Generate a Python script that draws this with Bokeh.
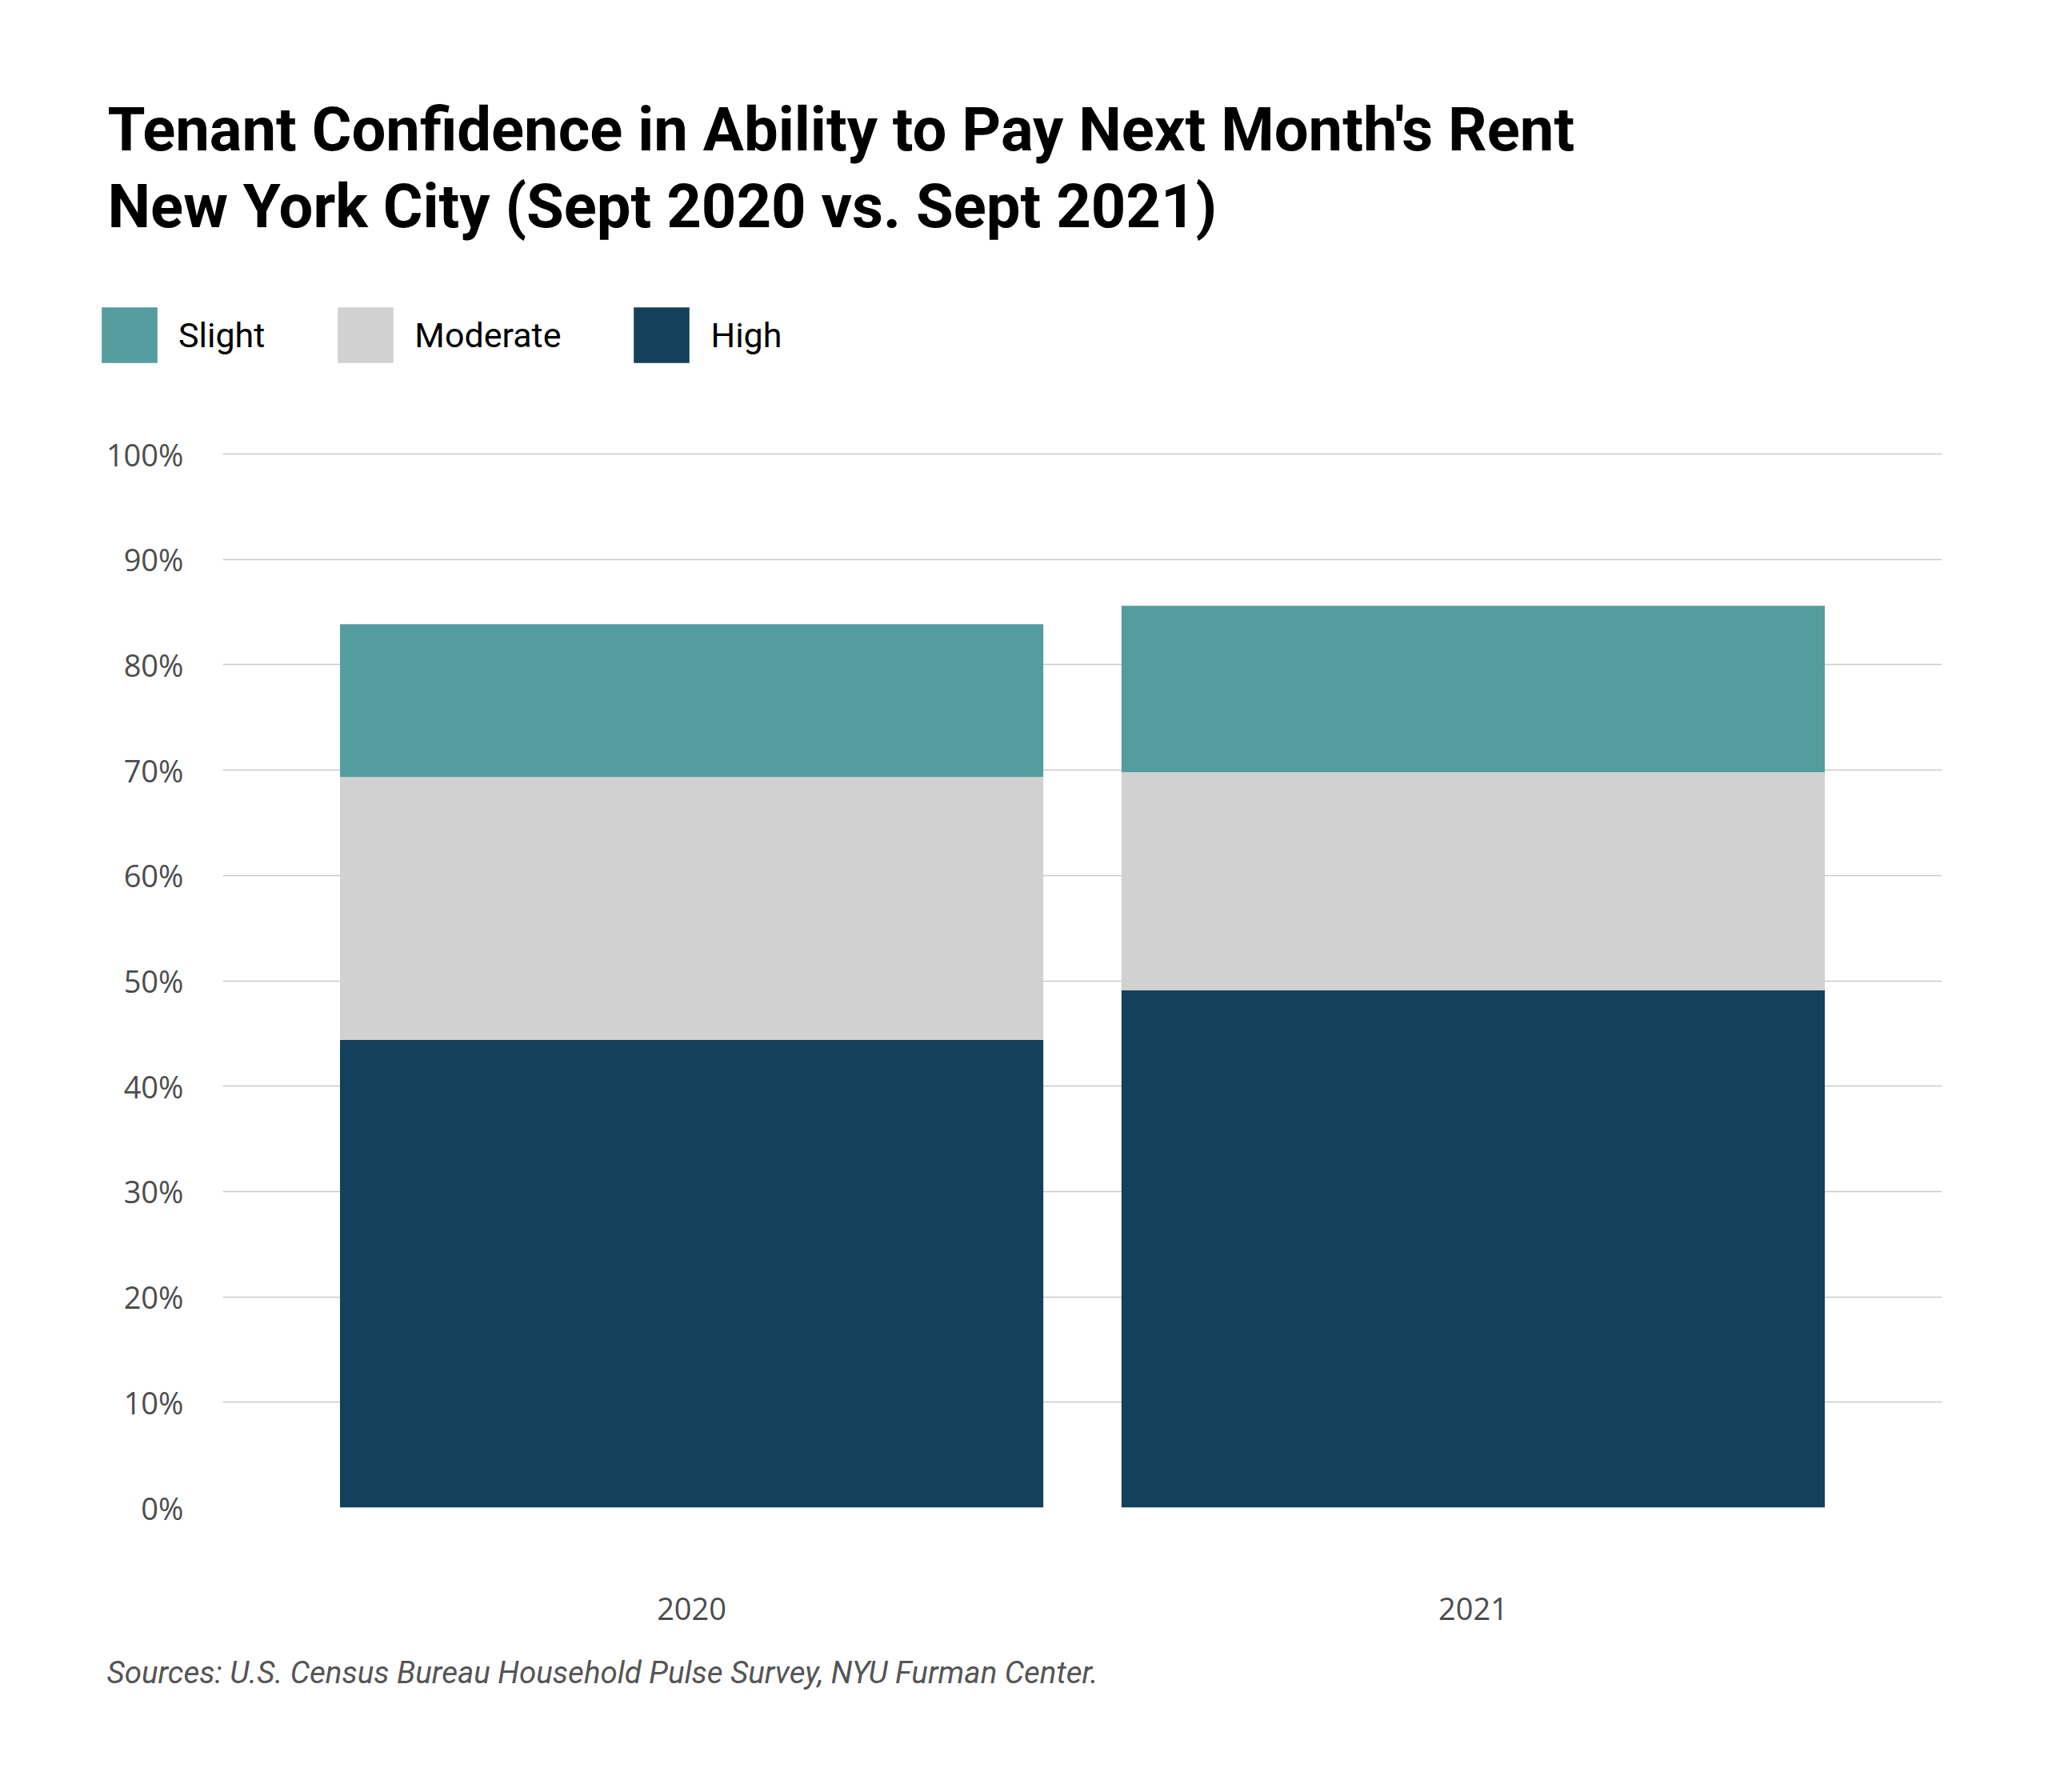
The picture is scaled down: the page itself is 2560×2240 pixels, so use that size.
from bokeh.plotting import figure
from bokeh.layouts import column
from bokeh.models import ColumnDataSource, Range1d, FactorRange, Label, Legend, LegendItem
from bokeh.embed import file_html
from bokeh.resources import INLINE

years = ["2020", "2021"]
high = [44.4, 49.1]
moderate = [24.95, 20.7]
slight = [14.5, 15.8]
y_ticks = [0, 10, 20, 30, 40, 50, 60, 70, 80, 90, 100]
y_tick_labels = [f"{t}%" for t in y_ticks]

series = ["High", "Moderate", "Slight"]
colors = ["#13405b", "#d1d1d1", "#559c9e"]
legend_order = ["Slight", "Moderate", "High"]

title_lines = ["Tenant Confidence in Ability to Pay Next Month's Rent",
               "New York City (Sept 2020 vs. Sept 2021)"]
source_note = "Sources: U.S. Census Bureau Household Pulse Survey, NYU Furman Center."

W = 2560
HEAD_H = 500
FL, FR, FT, FB = 278, 133, 64, 170
FW, FH = 2149, 1320
FOOT_H = 120

source = ColumnDataSource(data=dict(year=years, High=high, Moderate=moderate, Slight=slight))
x_range = FactorRange(*years, range_padding=0.1, range_padding_units="absolute")

# ---------- header: title + legend ----------
head = figure(width=W, height=HEAD_H, frame_width=W, frame_height=HEAD_H,
              x_range=x_range, y_range=Range1d(0, 100),
              min_border=0, output_backend="svg", toolbar_location=None, tools="",
              x_axis_type=None, y_axis_type=None, frame_align=False)
head.outline_line_color = None
head.grid.visible = False

for txt, yy in zip(title_lines, [HEAD_H - 161, HEAD_H - 257]):
    head.add_layout(Label(x=134, y=yy, x_units="screen", y_units="screen", text=txt,
                          text_font="Roboto", text_font_style="bold", text_font_size="76px",
                          text_color="#000000", text_baseline="alphabetic"))

# hidden copies of the stack, used only for the legend swatches
key = head.vbar_stack(series, x="year", width=0.9, color=colors, line_color=None,
                      source=source, visible=False)
key_by_name = dict(zip(series, key))
legend = Legend(
    items=[LegendItem(label=s, renderers=[key_by_name[s]]) for s in legend_order],
    orientation="horizontal", location=(118, 38),
    glyph_width=87, glyph_height=87, label_standoff=18, spacing=82,
    padding=0, margin=0, border_line_color=None, background_fill_alpha=0,
    inactive_fill_alpha=0,
    label_text_font="Roboto", label_text_font_size="43px", label_text_color="#000000",
    label_height=87,
)
head.add_layout(legend, "center")

# ---------- main chart ----------
p = figure(
    x_range=x_range,
    y_range=Range1d(0, 100.23),
    width=FL + FW + FR, height=FT + FH + FB,
    frame_width=FW, frame_height=FH,
    min_border_left=FL, min_border_right=FR, min_border_top=FT, min_border_bottom=FB,
    output_backend="svg", toolbar_location=None, tools="", frame_align=False,
)
p.outline_line_color = None

p.vbar_stack(series, x="year", width=0.9, color=colors, line_color=None, source=source)

p.yaxis.ticker = y_ticks
p.yaxis.major_label_overrides = dict(zip(y_ticks, y_tick_labels))
for ax in (p.xaxis[0], p.yaxis[0]):
    ax.axis_line_color = None
    ax.major_tick_line_color = None
    ax.minor_tick_line_color = None
    ax.major_label_text_font = "Open Sans"
    ax.major_label_text_font_size = "38px"
    ax.major_label_text_color = "#4d4d4d"
p.yaxis.major_label_standoff = 43
p.xaxis.major_label_standoff = 106

p.xgrid.grid_line_color = None
p.ygrid.grid_line_color = "#cbcbcb"
p.ygrid.grid_line_width = 1.5

# ---------- footer: source ----------
foot = figure(width=W, height=FOOT_H, frame_width=W, frame_height=FOOT_H,
              x_range=Range1d(0, W), y_range=Range1d(FOOT_H, 0),
              min_border=0, output_backend="svg", toolbar_location=None, tools="",
              x_axis_type=None, y_axis_type=None, frame_align=False)
foot.outline_line_color = None
foot.grid.visible = False
foot.add_layout(Label(x=133, y=36, text=source_note,
                      text_font="Roboto", text_font_style="italic", text_font_size="38.5px",
                      text_color="#555555", text_baseline="alphabetic"))

layout = column(head, p, foot, spacing=0)
open("out.html", "w").write(file_html(layout, INLINE))
